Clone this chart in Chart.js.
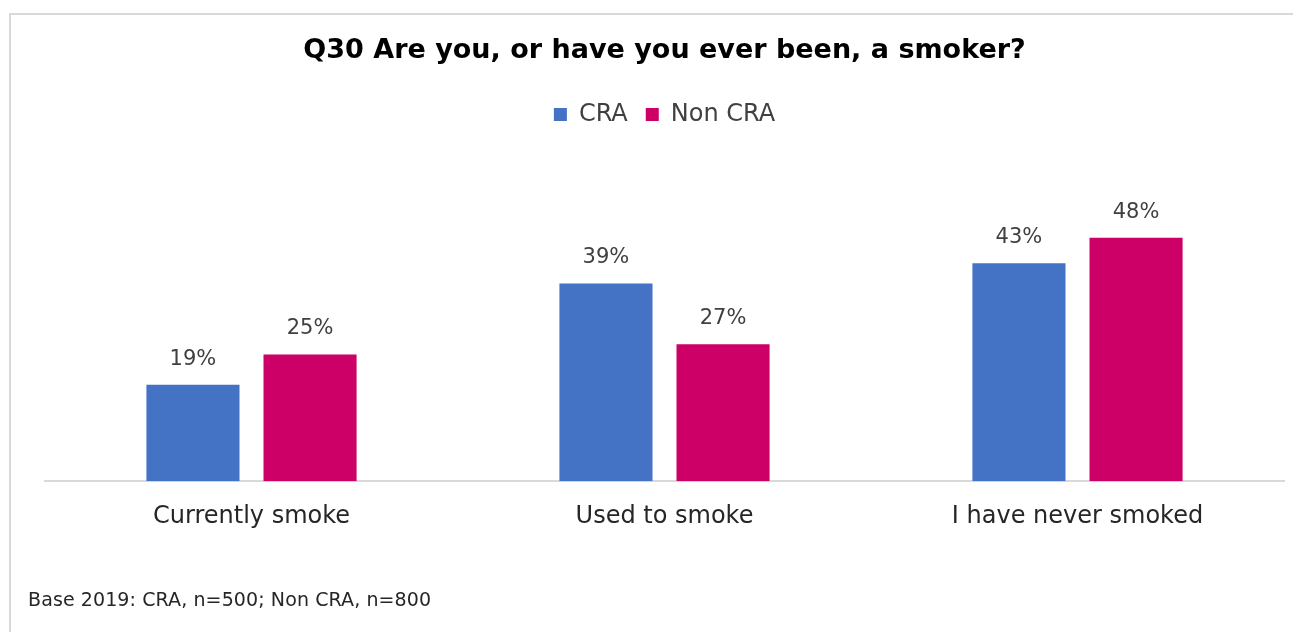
<!DOCTYPE html>
<html>
<head>
<meta charset="utf-8">
<script src="https://cdn.jsdelivr.net/npm/chart.js@4"></script>
<style>
  html, body { margin: 0; padding: 0; background: #fff; }
  #frame { position: absolute; left: 9px; top: 13px; width: 1300px; height: 640px;
           border-left: 2px solid #d9d9d9; border-top: 2px solid #d9d9d9; }
  #wrap { position: absolute; left: 0; top: 0; width: 1293px; height: 632px; }
  #nota { position: absolute; left: 28px; top: 588px; font-family: "DejaVu Sans", sans-serif;
          font-size: 19px; color: #262626; letter-spacing: 0.1px; }
</style>
</head>
<body>
<div id="frame"></div>
<div id="wrap"><canvas id="grafico" width="1293" height="632"></canvas></div>
<div id="nota">Base 2019: CRA, n=500; Non CRA, n=800</div>
<script>
const categorias = ["Currently smoke", "Used to smoke", "I have never smoked"];
const valoresCRA = [19, 39, 43];
const valoresNonCRA = [25, 27, 48];

const fonte = "'DejaVu Sans', sans-serif";

// rótulos de valor acima das barras
const rotulos = {
  id: "rotulos",
  afterDatasetsDraw(chart) {
    const ctx = chart.ctx;
    ctx.save();
    ctx.font = "21px " + fonte;
    ctx.fillStyle = "#404040";
    ctx.textAlign = "center";
    ctx.textBaseline = "bottom";
    chart.data.datasets.forEach((ds, i) => {
      chart.getDatasetMeta(i).data.forEach((bar, j) => {
        ctx.fillText(ds.data[j] + "%", bar.x, bar.y - 15);
      });
    });
    ctx.restore();
  }
};

new Chart(document.getElementById("grafico"), {
  type: "bar",
  data: {
    labels: categorias,
    datasets: [
      { label: "CRA", data: valoresCRA, backgroundColor: "#4472C4" },
      { label: "Non CRA", data: valoresNonCRA, backgroundColor: "#CC0066" }
    ]
  },
  options: {
    responsive: false,
    animation: false,
    layout: { padding: { left: 45, right: 9, top: 0, bottom: 88 } },
    datasets: { bar: { barPercentage: 0.795, categoryPercentage: 0.567 } },
    plugins: {
      title: {
        display: true,
        text: "Q30 Are you, or have you ever been, a smoker?",
        color: "#000",
        font: { family: fonte, size: 27, weight: "bold" },
        padding: { top: 35, bottom: 17 }
      },
      legend: {
        display: true,
        position: "top",
        labels: {
          color: "#404040",
          font: { family: fonte, size: 24 },
          boxWidth: 13, boxHeight: 13, padding: 18
        }
      },
      tooltip: { enabled: false }
    },
    scales: {
      x: {
        grid: { display: false },
        border: { display: true, color: "#d9d9d9", width: 2 },
        ticks: { color: "#262626", font: { family: fonte, size: 24 }, padding: 13 }
      },
      y: {
        display: false,
        min: 0,
        max: 68
      }
    }
  },
  plugins: [rotulos]
});
</script>
</body>
</html>
